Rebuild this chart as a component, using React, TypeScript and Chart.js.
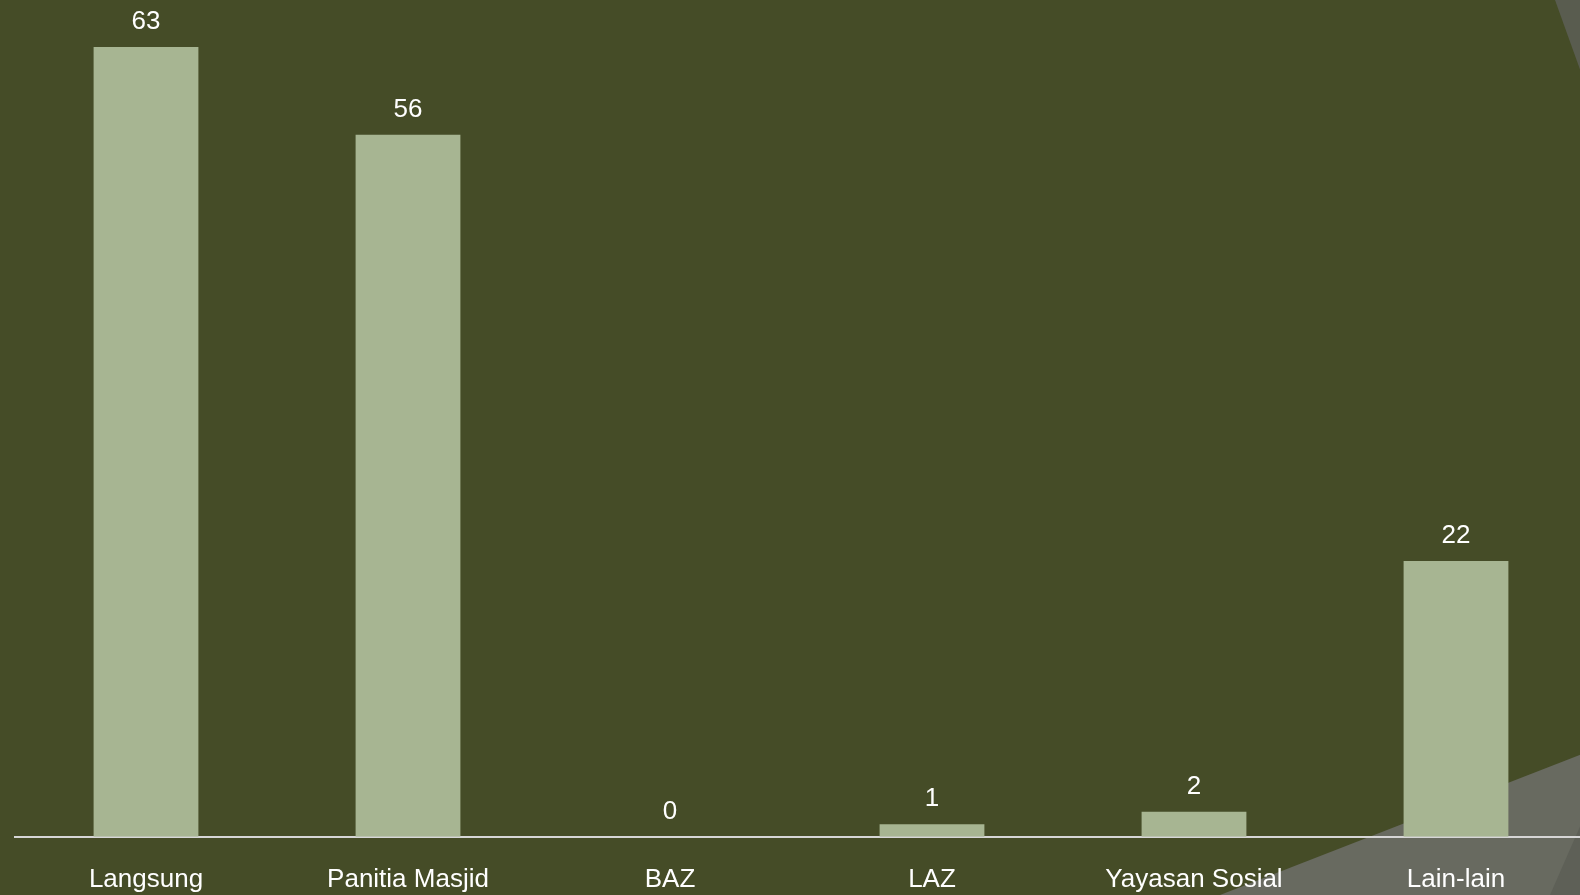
import React, { useEffect, useRef } from "react";
import { Chart, registerables } from "chart.js";

Chart.register(...registerables);

const categories = ["Langsung", "Panitia Masjid", "BAZ", "LAZ", "Yayasan Sosial", "Lain-lain"];
const values = [63, 56, 0, 1, 2, 22];

const BG = "#454c27";
const BAR = "#a7b592";
const FONT = "'Liberation Sans', Arial, sans-serif";

const backgroundPlugin = {
  id: "slideBackground",
  beforeDraw(chart: any) {
    const ctx = chart.ctx;
    ctx.save();
    ctx.fillStyle = BG;
    ctx.fillRect(0, 0, chart.width, chart.height);
    // top-right sliver
    ctx.fillStyle = "#595c4f";
    ctx.beginPath();
    ctx.moveTo(1555, 0);
    ctx.lineTo(1600, 0);
    ctx.lineTo(1600, 125);
    ctx.closePath();
    ctx.fill();
    // bottom-right gray
    ctx.fillStyle = "#686a60";
    ctx.beginPath();
    ctx.moveTo(1220, 895);
    ctx.lineTo(1600, 747);
    ctx.lineTo(1600, 895);
    ctx.closePath();
    ctx.fill();
    ctx.fillStyle = "#5e6057";
    ctx.beginPath();
    ctx.moveTo(1550, 895);
    ctx.lineTo(1600, 781);
    ctx.lineTo(1600, 895);
    ctx.closePath();
    ctx.fill();
    ctx.restore();
  },
};

const valueLabelPlugin = {
  id: "valueLabels",
  afterDatasetsDraw(chart: any) {
    const ctx = chart.ctx;
    const meta = chart.getDatasetMeta(0);
    ctx.save();
    ctx.fillStyle = "#ffffff";
    ctx.font = `26px ${FONT}`;
    ctx.textAlign = "center";
    ctx.textBaseline = "alphabetic";
    meta.data.forEach((el: any, i: number) => {
      ctx.fillText(String(values[i]), el.x, el.y - 18);
    });
    ctx.restore();
  },
};

export default function App() {
  const ref = useRef<HTMLCanvasElement | null>(null);

  useEffect(() => {
    document.documentElement.style.overflow = "hidden";
    document.body.style.overflow = "hidden";
    const canvas = ref.current;
    if (!canvas) return;
    const chart = new Chart(canvas, {
      type: "bar",
      data: {
        labels: categories,
        datasets: [
          {
            data: values,
            backgroundColor: BAR,
            borderWidth: 0,
            barPercentage: 0.4,
            categoryPercentage: 1.0,
          },
        ],
      },
      options: {
        responsive: false,
        animation: false,
        devicePixelRatio: 1,
        layout: { padding: { left: 15, right: 1, top: 47, bottom: -28.9 } },
        plugins: {
          legend: { display: false },
          tooltip: { enabled: false },
        },
        scales: {
          x: {
            grid: { display: false, drawTicks: false },
            border: { display: true, color: "#d6d6d6", width: 2 },
            ticks: {
              color: "#ffffff",
              font: { family: FONT, size: 26 },
              padding: 28,
              maxRotation: 0,
              autoSkip: false,
            },
          },
          y: {
            display: false,
            min: 0,
            max: 63,
          },
        },
      },
      plugins: [backgroundPlugin, valueLabelPlugin],
    });
    return () => chart.destroy();
  }, []);

  return (
    <div style={{ position: "absolute", left: 0, top: 0, width: 1588, height: 895, background: BG }}>
      <canvas ref={ref} width={1588} height={895} style={{ display: "block" }} />
    </div>
  );
}
